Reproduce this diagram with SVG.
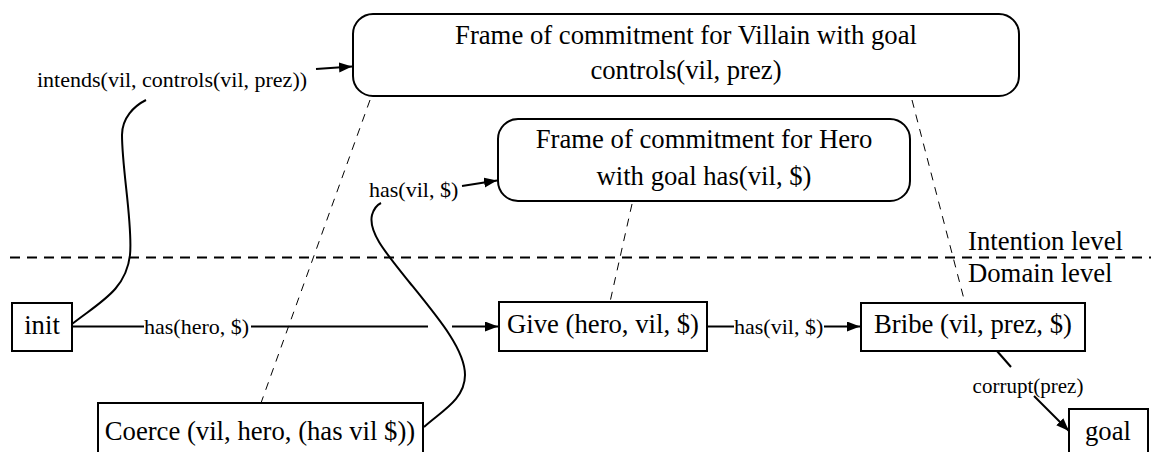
<svg xmlns="http://www.w3.org/2000/svg" width="1151" height="452" viewBox="0 0 1151 452">
<style>
  .box { fill: #fff; stroke: #000; stroke-width: 2; }
  .frame { fill: #fff; stroke: #000; stroke-width: 2; }
  text { font-family: 'Liberation Serif', 'Times New Roman', serif; fill: #000; }
  .node { font-size: 26.7px; text-anchor: middle; }
  .lbl { font-size: 22px; }
  .big { font-size: 26.7px; }
  .edge { fill: none; stroke: #000; stroke-width: 2; }
  .thin { fill: none; stroke: #000; stroke-width: 1; stroke-dasharray: 8 7; }
  .level { fill: none; stroke: #000; stroke-width: 2; stroke-dasharray: 10 7; }
</style>
<defs>
  <marker id="arr" markerUnits="userSpaceOnUse" markerWidth="14" markerHeight="12" refX="13" refY="5" orient="auto">
    <path d="M0,0 L13,5 L0,10 Z" fill="#000"/>
  </marker>
</defs>
<rect width="1151" height="452" fill="#fff"/>

<g id="levels">
  <line class="level" x1="10" y1="257.5" x2="1151" y2="257.5"/>
  <text class="big" x="968" y="250">Intention level</text>
  <text class="big" x="968" y="282">Domain level</text>
</g>

<g id="connectors">
  <line class="thin" x1="370" y1="100" x2="261" y2="403"/>
  <line class="thin" x1="632" y1="204" x2="610" y2="302"/>
  <line class="thin" x1="912" y1="100" x2="965" y2="303"/>
  <path class="edge" d="M72,324 C100,302 126,290 130,255 C133,225 122,170 122,135 C122,118 134,106 146,100"/>
  <path class="edge" d="M424,427 C440,412 465,400 465,375 C465,350 440,320 410,283 C385,252 368,232 372,215 C374,208 377,205 381,203"/>
  <line class="edge" x1="316" y1="69" x2="352" y2="66.5" marker-end="url(#arr)"/>
  <text class="lbl" x="37" y="86.5">intends(vil, controls(vil, prez))</text>
  <line class="edge" x1="462" y1="186" x2="497" y2="180.5" marker-end="url(#arr)"/>
  <text class="lbl" x="369" y="197">has(vil, $)</text>
  <line class="edge" x1="72" y1="326.5" x2="144" y2="326.5"/>
  <text class="lbl" x="144" y="333.5">has(hero, $)</text>
  <line class="edge" x1="251" y1="326.5" x2="428" y2="326.5"/>
  <line class="edge" x1="452" y1="326.5" x2="498" y2="326.5" marker-end="url(#arr)"/>
  <line class="edge" x1="707" y1="326.5" x2="734" y2="326.5"/>
  <text class="lbl" x="734" y="333.5">has(vil, $)</text>
  <line class="edge" x1="824" y1="326.5" x2="860" y2="326.5" marker-end="url(#arr)"/>
  <line class="edge" x1="997" y1="351" x2="1011" y2="367"/>
  <line class="edge" x1="1034" y1="396" x2="1069" y2="431" marker-end="url(#arr)"/>
  <text class="lbl" x="1028" y="393" text-anchor="middle" style="font-size:21px">corrupt(prez)</text>
</g>

<g id="villain-frame">
  <rect class="frame" x="353" y="14" width="666" height="82" rx="20" ry="20"/>
  <text class="node" x="686" y="44">Frame of commitment for Villain with goal</text>
  <text class="node" x="686" y="79">controls(vil, prez)</text>
</g>

<g id="hero-frame">
  <rect class="frame" x="498" y="119" width="412" height="82" rx="20" ry="20"/>
  <text class="node" x="704" y="148">Frame of commitment for Hero</text>
  <text class="node" x="704" y="185">with goal has(vil, $)</text>
</g>

<g id="init">
  <rect class="box" x="12" y="303" width="60" height="48"/>
  <text class="node" x="42" y="334">init</text>
</g>

<g id="give">
  <rect class="box" x="499" y="302" width="208" height="49"/>
  <text class="node" x="603" y="333">Give (hero, vil, $)</text>
</g>

<g id="bribe">
  <rect class="box" x="861" y="303" width="224" height="48"/>
  <text class="node" x="973" y="333">Bribe (vil, prez, $)</text>
</g>

<g id="coerce">
  <rect class="box" x="98" y="403" width="325" height="70"/>
  <text class="node" x="260" y="440">Coerce (vil, hero, (has vil $))</text>
</g>

<g id="goal">
  <rect class="box" x="1069" y="409" width="79" height="70"/>
  <text class="node" x="1108" y="440">goal</text>
</g>
</svg>
